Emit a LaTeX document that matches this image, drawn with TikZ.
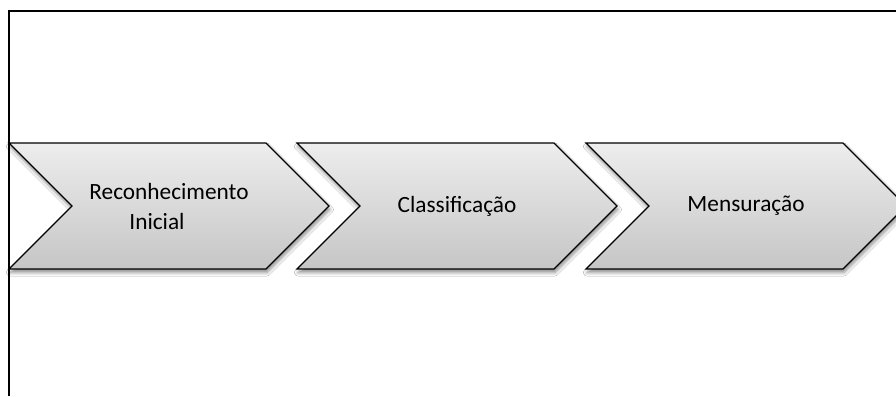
\documentclass[tikz,border=0pt]{standalone}
\usepackage{fontspec}
\setmainfont{Carlito}
\usetikzlibrary{shapes.symbols,shadows.blur}
\tikzset{
  stage/.style={signal, signal from=west, signal to=east, signal pointer angle=90,
    minimum width=320pt, minimum height=126pt, inner sep=0pt,
    draw=black, line width=1.2pt, top color=gray!14, bottom color=gray!45,
    blur shadow={shadow xshift=1pt, shadow yshift=-3.5pt, shadow blur radius=3.5pt, shadow opacity=45},
    align=center, font=\fontsize{23.3}{30}\selectfont},
  frameline/.style={line width=1.4pt, black}
}
\begin{document}
\begin{tikzpicture}[x=1pt,y=-1pt]
  \clip (0,0) rectangle (896,396);
  \fill[white] (0,0) rectangle (896,396);
  \coordinate (fTop) at (896,11);
  \coordinate (fCorner) at (9,11);
  \coordinate (fBottom) at (9,396);
  \draw[frameline] (fTop) -- (fCorner) -- (fBottom);
  \node[stage] (s1) at (169,206) {Reconhecimento\\\hspace*{-24pt}Inicial};
  \node[stage] (s2) at (457,206) {Classificação};
  \node[stage] (s3) at (746,206) {Mensuração};
\end{tikzpicture}
\end{document}
